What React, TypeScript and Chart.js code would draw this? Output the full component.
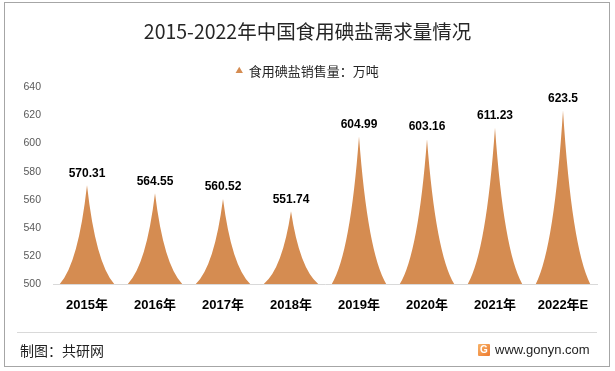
import React, { useEffect, useRef } from "react";
import { Chart, registerables } from "chart.js";

Chart.register(...registerables);

const categories = ["2015年", "2016年", "2017年", "2018年", "2019年", "2020年", "2021年", "2022年E"];
const salesValues = [570.31, 564.55, 560.52, 551.74, 604.99, 603.16, 611.23, 623.5];
const valueLabels = ["570.31", "564.55", "560.52", "551.74", "604.99", "603.16", "611.23", "623.5"];
const seriesName = "食用碘盐销售量：万吨";
const titleText = "2015-2022年中国食用碘盐需求量情况";
const yMin = 500;
const yMax = 640;
const yStep = 20;

const CJK = '"Noto Sans CJK SC", sans-serif';
const NUM = '"Liberation Sans", "Noto Sans CJK SC", sans-serif';
const SPIKE = "#D58C51";

const spikePlugin = {
  id: "spikes",
  beforeDatasetDraw() {
    return false;
  },
  afterDatasetsDraw(chart: any) {
    const ctx = chart.ctx;
    const meta = chart.getDatasetMeta(0);
    const yScale = chart.scales.y;
    const basePx = yScale.getPixelForValue(yMin);
    ctx.save();
    meta.data.forEach((el: any, i: number) => {
      const { x, y, width } = el.getProps(["x", "y", "width"], true);
      const base = basePx;
      const h = base - y;
      const w = width;
      ctx.beginPath();
      ctx.moveTo(x - w / 2, base);
      ctx.quadraticCurveTo(x - 0.16 * w, base - 0.21 * h, x, y);
      ctx.quadraticCurveTo(x + 0.16 * w, base - 0.21 * h, x + w / 2, base);
      ctx.closePath();
      ctx.fillStyle = SPIKE;
      ctx.fill();
      ctx.font = `bold 12px ${NUM}`;
      ctx.fillStyle = "#000";
      ctx.textAlign = "center";
      ctx.textBaseline = "bottom";
      ctx.fillText(valueLabels[i], x, y - 6);
    });
    ctx.restore();
  },
};

export default function App() {
  const ref = useRef<HTMLCanvasElement | null>(null);
  useEffect(() => {
    if (!ref.current) return;
    const chart = new Chart(ref.current, {
      type: "bar",
      data: {
        labels: categories,
        datasets: [
          {
            label: seriesName,
            data: salesValues,
            base: yMin,
            backgroundColor: SPIKE,
            borderWidth: 0,
            barPercentage: 0.8,
            categoryPercentage: 1,
          },
        ],
      },
      options: {
        responsive: false,
        animation: false,
        devicePixelRatio: 1,
        layout: { padding: { left: 18, right: 18, top: 0, bottom: 16 } },
        plugins: {
          tooltip: { enabled: false },
          title: {
            display: true,
            text: titleText,
            color: "#262626",
            font: { size: 19.5, family: CJK, weight: "normal" },
            padding: { top: 20, bottom: 9 },
          },
          legend: {
            display: true,
            labels: {
              usePointStyle: true,
              pointStyle: "triangle",
              boxWidth: 6,
              boxHeight: 6,
              color: "#262626",
              font: { size: 13, family: CJK },
              padding: 12,
            },
          },
        },
        scales: {
          x: {
            grid: { display: false, drawTicks: false },
            border: { display: true, color: "#d9d9d9" },
            ticks: { color: "#000", font: { size: 13, weight: "bold", family: NUM }, padding: 14 },
            afterFit: (s: any) => {
              s.height = 30;
            },
          },
          y: {
            min: yMin,
            max: yMax,
            grid: { display: false, drawTicks: false },
            border: { display: false },
            ticks: { stepSize: yStep, color: "#595959", font: { size: 10.5, family: NUM }, padding: 12 },
            afterFit: (s: any) => {
              s.width = 35;
            },
          },
        },
      },
      plugins: [spikePlugin],
    });
    return () => chart.destroy();
  }, []);

  return (
    <div style={{ position: "absolute", left: 0, top: 0, width: 615, height: 371, background: "#fff", fontFamily: CJK }}>
      <canvas ref={ref} width={615} height={330} style={{ position: "absolute", left: 0, top: 0, width: 615, height: 330 }} />
      <div style={{ position: "absolute", left: 4, top: 2, width: 604, height: 363, border: "1px solid #a6a6a6", pointerEvents: "none" }} />
      <div style={{ position: "absolute", left: 17, top: 332, width: 580, height: 1, background: "#d9d9d9" }} />
      <div style={{ position: "absolute", left: 20, top: 340, fontSize: 14, lineHeight: "20px", color: "#222", fontFamily: CJK }}>
        制图：共研网
      </div>
      <div style={{ position: "absolute", left: 478, top: 344, width: 12, height: 12, background: "linear-gradient(135deg, #f7b36a, #ee7a2e)", borderRadius: 1, color: "#fff", fontSize: 10, fontWeight: "bold", lineHeight: "12px", textAlign: "center", fontFamily: NUM }}>
        G
      </div>
      <div style={{ position: "absolute", left: 495, top: 341, fontSize: 13, lineHeight: "18px", color: "#222", fontFamily: NUM }}>
        www.gonyn.com
      </div>
    </div>
  );
}
